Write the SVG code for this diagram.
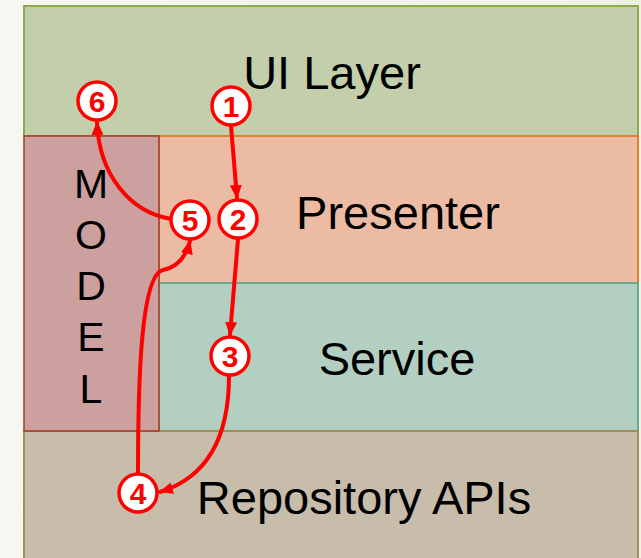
<svg xmlns="http://www.w3.org/2000/svg" width="641" height="558" viewBox="0 0 641 558">
<defs>
<linearGradient id="bg" x1="0" y1="0" x2="1" y2="0">
<stop offset="0" stop-color="#f6f7f1"/>
<stop offset="1" stop-color="#eef2e2"/>
</linearGradient>
<marker id="ah" viewBox="0 0 14 12" refX="13" refY="6" markerWidth="14" markerHeight="12" markerUnits="userSpaceOnUse" orient="auto">
<path d="M0,0 L14,6 L0,12 Z" fill="#ff0000"/>
</marker>
<style>
.lbl{font-family:"Century Gothic","URW Gothic","Liberation Sans",Arial,sans-serif;fill:#000;}
.big{font-size:47px;text-anchor:middle;}
.mdl{font-size:41px;text-anchor:middle;}
.num{font-family:"Liberation Sans",Arial,sans-serif;font-weight:bold;font-size:30px;fill:#ff0000;text-anchor:middle;}
.circ{fill:#ffffff;stroke:#ff0000;stroke-width:3.5;}
.arr{fill:none;stroke:#ff0000;stroke-width:4;stroke-linecap:round;}
</style>
</defs>
<rect x="0" y="0" width="641" height="558" fill="url(#bg)"/>
<g id="ui-layer">
<rect x="24" y="6" width="614" height="130" fill="#c3cfab" stroke="#8fa94c" stroke-width="2"/>
<text class="lbl big" x="332" y="89">UI Layer</text>
</g>
<g id="presenter">
<rect x="159" y="136" width="479" height="147" fill="#ecbba3" stroke="#e0802f" stroke-width="2"/>
<text class="lbl big" x="398" y="229">Presenter</text>
</g>
<g id="service">
<rect x="159" y="283" width="479" height="148" fill="#b3cfc1" stroke="#6daa93" stroke-width="2"/>
<text class="lbl big" x="397" y="375">Service</text>
</g>
<g id="repository">
<rect x="24" y="431" width="614" height="130" fill="#c8bcab" stroke="#a08c5c" stroke-width="2"/>
<text class="lbl big" x="364" y="514">Repository APIs</text>
</g>
<g id="model">
<rect x="24" y="136" width="135" height="295" fill="#cba09f" stroke="#a33c20" stroke-width="1.5"/>
<text class="lbl mdl" x="91" y="198">M</text>
<text class="lbl mdl" x="91" y="249">O</text>
<text class="lbl mdl" x="91" y="300">D</text>
<text class="lbl mdl" x="91" y="351">E</text>
<text class="lbl mdl" x="91" y="403">L</text>
</g>
<g id="connectors">
<path class="arr" d="M231,126 L237,198" marker-end="url(#ah)"/>
<path class="arr" d="M238,239 L230,335" marker-end="url(#ah)"/>
<path class="arr" d="M229,376 C229,440 205,478 160,492" marker-end="url(#ah)"/>
<path class="arr" d="M138,474 C138,390 140,275 163,270 C178,267 186,257 190,241" marker-end="url(#ah)"/>
<path class="arr" d="M171,219 C130,212 99,175 97,122" marker-end="url(#ah)"/>
</g>
<g id="step1"><circle class="circ" cx="231" cy="106" r="19"/><text class="num" x="231" y="117">1</text></g>
<g id="step2"><circle class="circ" cx="238" cy="219" r="19"/><text class="num" x="238" y="230">2</text></g>
<g id="step3"><circle class="circ" cx="230" cy="356" r="19"/><text class="num" x="230" y="367">3</text></g>
<g id="step4"><circle class="circ" cx="138" cy="493" r="19"/><text class="num" x="138" y="504">4</text></g>
<g id="step5"><circle class="circ" cx="190" cy="220" r="19"/><text class="num" x="190" y="231">5</text></g>
<g id="step6"><circle class="circ" cx="97" cy="101" r="19"/><text class="num" x="97" y="112">6</text></g>
</svg>
